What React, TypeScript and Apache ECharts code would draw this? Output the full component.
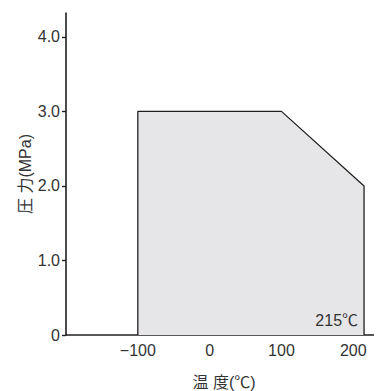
import React, { useEffect, useRef } from "react";
import * as echarts from "echarts";

const temps = [-100, -100, 100, 215, 215];
const pressures = [0, 3, 3, 2, 0];
const xTicks = [-100, 0, 100, 200];
const yTicks = [0, 1, 2, 3, 4];
const xName = "温 度(℃)";
const yName = "圧 力(MPa)";
const cornerLabel = "215℃";

const FONT = '"Liberation Sans", Arial, "Noto Sans CJK JP", sans-serif';
const INK = "#231f20";
const TXT = "#333333";

export default function App() {
  const ref = useRef<HTMLDivElement>(null);
  useEffect(() => {
    if (!ref.current) return;
    const chart = echarts.init(ref.current, undefined, { renderer: "svg" });
    const data = temps.map((t, i) => [t, pressures[i]]);
    chart.setOption({
      animation: false,
      textStyle: { fontFamily: FONT },
      grid: { left: 66, right: 0, top: 13, bottom: 56, containLabel: false, outerBoundsMode: "none" },
      xAxis: {
        type: "value",
        min: -200,
        max: 240,
        interval: 100,
        name: xName,
        nameLocation: "middle",
        nameGap: 39,
        nameMoveOverlap: false,
        nameTextStyle: { fontSize: 16, color: TXT, fontFamily: FONT },
        splitLine: { show: false },
        axisLine: { onZero: false, lineStyle: { color: INK, width: 1.6 } },
        axisTick: { inside: true, length: 4, customValues: xTicks, lineStyle: { color: INK, width: 1.4 } },
        axisLabel: {
          customValues: xTicks,
          margin: 7,
          fontSize: 16,
          color: TXT,
          fontFamily: FONT,
          formatter: (v: number) => (v < 0 ? "\u2212" + Math.abs(v) : String(v)),
        },
      },
      yAxis: {
        type: "value",
        min: 0,
        max: 4.32,
        interval: 1,
        name: yName,
        nameLocation: "middle",
        nameRotate: 90,
        nameGap: 33,
        nameMoveOverlap: false,
        nameTextStyle: { fontSize: 16, color: TXT, fontFamily: FONT },
        splitLine: { show: false },
        axisLine: { onZero: false, lineStyle: { color: INK, width: 1.6 } },
        axisTick: { inside: false, length: 4, customValues: yTicks, lineStyle: { color: INK, width: 1.4 } },
        axisLabel: {
          customValues: yTicks,
          margin: 6,
          fontSize: 16,
          color: TXT,
          fontFamily: FONT,
          formatter: (v: number) => (v === 0 ? "0" : v.toFixed(1)),
        },
      },
      series: [
        {
          type: "line",
          data,
          symbol: "none",
          lineStyle: { color: INK, width: 1.3 },
          areaStyle: { color: "#e6e6e8", opacity: 1 },
          markPoint: {
            symbol: "circle",
            symbolSize: 0,
            data: [{ coord: [temps[temps.length - 1], pressures[pressures.length - 1]] }],
            label: {
              show: true,
              formatter: cornerLabel,
              position: "inside",
              align: "right",
              verticalAlign: "bottom",
              offset: [-6, -7],
              fontSize: 16,
              color: TXT,
              fontFamily: FONT,
            },
          },
        },
      ],
    });
    return () => chart.dispose();
  }, []);
  return <div ref={ref} style={{ width: 382, height: 391, marginLeft: -8, marginTop: -8 }} />;
}
